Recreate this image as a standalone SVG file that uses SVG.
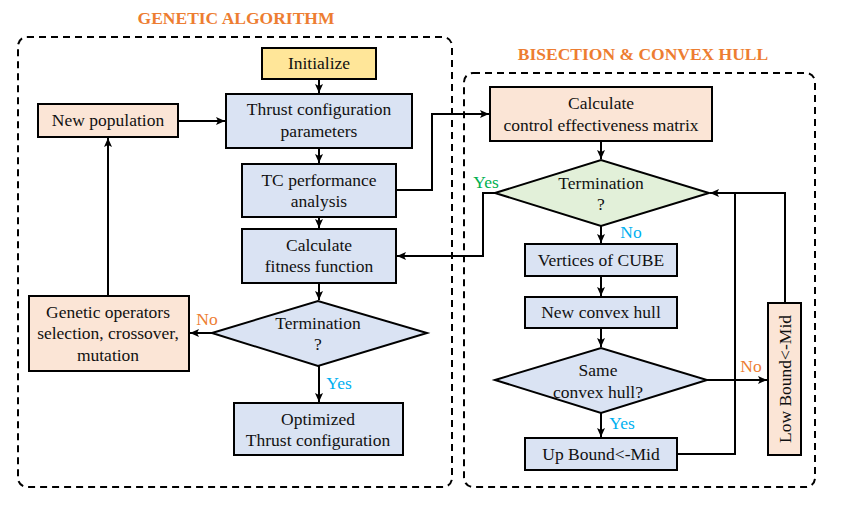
<svg xmlns="http://www.w3.org/2000/svg" width="850" height="506" viewBox="0 0 850 506" font-family="Liberation Serif, Tinos, Times New Roman, serif">
<style>
.box{stroke:#000;stroke-width:2}
.blue{fill:#DAE3F3}.peach{fill:#FBE5D6}.yel{fill:#FFE699}.grn{fill:#E2F0D9}
text{font-size:17.5px;fill:#111;text-anchor:middle}
.title{font-weight:bold;fill:#ED7D31;font-size:17.5px}
.no{fill:#ED7D31}.yes{fill:#00B0F0}.gyes{fill:#00B050}
.dash{fill:none;stroke:#000;stroke-width:2;stroke-dasharray:7,5}
.c{fill:none;stroke:#000;stroke-width:2}
</style>
<defs>
<marker id="ah" markerUnits="userSpaceOnUse" markerWidth="10" markerHeight="10" refX="9" refY="5" orient="auto">
<path d="M0,1 L9,5 L0,9 L2,5 z" fill="#000"/>
</marker>
</defs>
<rect width="850" height="506" fill="#fff"/>
<g id="ga-frame">
<rect class="dash" x="18" y="37" width="434" height="450" rx="9"/>
<text class="title" x="236" y="24">GENETIC ALGORITHM</text>
</g>
<g id="bc-frame">
<rect class="dash" x="464" y="73" width="351" height="414" rx="9"/>
<text class="title" x="643" y="60">BISECTION &amp; CONVEX HULL</text>
</g>
<g id="connectors">
<path class="c" d="M319,79 V93" marker-end="url(#ah)"/>
<path class="c" d="M319,148 V163" marker-end="url(#ah)"/>
<path class="c" d="M319,217 V228" marker-end="url(#ah)"/>
<path class="c" d="M319,283 V300" marker-end="url(#ah)"/>
<path class="c" d="M319,366 V402" marker-end="url(#ah)"/>
<path class="c" d="M212,333 H190" marker-end="url(#ah)"/>
<path class="c" d="M108,296 V138" marker-end="url(#ah)"/>
<path class="c" d="M178,121 H225" marker-end="url(#ah)"/>
<path class="c" d="M396,190 H432 V114 H489" marker-end="url(#ah)"/>
<path class="c" d="M601,141 V159" marker-end="url(#ah)"/>
<path class="c" d="M495,193 H483 V256 H397" marker-end="url(#ah)"/>
<path class="c" d="M601,226 V243" marker-end="url(#ah)"/>
<path class="c" d="M601,276 V296" marker-end="url(#ah)"/>
<path class="c" d="M601,328 V347" marker-end="url(#ah)"/>
<path class="c" d="M601,413 V437" marker-end="url(#ah)"/>
<path class="c" d="M707,380 H767" marker-end="url(#ah)"/>
<path class="c" d="M677,454 H735 V193"/>
<path class="c" d="M785,303 V193 H710" marker-end="url(#ah)"/>
<text class="no" x="207" y="325">No</text>
<text class="yes" x="339" y="389">Yes</text>
<text class="gyes" x="486" y="188">Yes</text>
<text class="yes" x="631" y="238">No</text>
<text class="no" x="751" y="372">No</text>
<text class="yes" x="622" y="429">Yes</text>
</g>
<g id="initialize">
<rect class="box yel" x="262" y="48" width="114" height="31"/>
<text x="319" y="69">Initialize</text>
</g>
<g id="thrust-params">
<rect class="box blue" x="226" y="94" width="186" height="54"/>
<text x="319" y="115">Thrust configuration</text>
<text x="319" y="137">parameters</text>
</g>
<g id="new-population">
<rect class="box peach" x="38" y="104" width="140" height="33"/>
<text x="108" y="126">New population</text>
</g>
<g id="tc-performance">
<rect class="box blue" x="242" y="164" width="154" height="53"/>
<text x="319" y="186">TC performance</text>
<text x="319" y="207">analysis</text>
</g>
<g id="fitness">
<rect class="box blue" x="242" y="229" width="154" height="54"/>
<text x="319" y="251">Calculate</text>
<text x="319" y="272">fitness function</text>
</g>
<g id="ga-termination">
<polygon class="box blue" points="212,333 318,301 427,333 318,366"/>
<text x="318" y="329">Termination</text>
<text x="318" y="350">?</text>
</g>
<g id="genetic-operators">
<rect class="box peach" x="29" y="296" width="160" height="75"/>
<text x="108" y="318">Genetic operators</text>
<text x="108" y="339">selection, crossover,</text>
<text x="108" y="361">mutation</text>
</g>
<g id="optimized">
<rect class="box blue" x="234" y="403" width="169" height="52"/>
<text x="318" y="425">Optimized</text>
<text x="318" y="446">Thrust configuration</text>
</g>
<g id="control-matrix">
<rect class="box peach" x="490" y="87" width="222" height="54"/>
<text x="601" y="109">Calculate</text>
<text x="601" y="131">control effectiveness matrix</text>
</g>
<g id="bc-termination">
<polygon class="box grn" points="495,193 601,160 709,193 601,226"/>
<text x="601" y="189">Termination</text>
<text x="601" y="210">?</text>
</g>
<g id="vertices">
<rect class="box blue" x="525" y="244" width="152" height="32"/>
<text x="601" y="266">Vertices of CUBE</text>
</g>
<g id="new-hull">
<rect class="box blue" x="525" y="297" width="152" height="31"/>
<text x="601" y="318">New convex hull</text>
</g>
<g id="same-hull">
<polygon class="box blue" points="495,380 601,348 707,380 601,413"/>
<text x="598" y="376">Same</text>
<text x="598" y="398">convex hull?</text>
</g>
<g id="up-bound">
<rect class="box blue" x="525" y="438" width="152" height="32"/>
<text x="601" y="460">Up Bound&lt;-Mid</text>
</g>
<g id="low-bound">
<rect class="box peach" x="768" y="303" width="33" height="152"/>
<text transform="translate(791,379) rotate(-90)" x="0" y="0">Low Bound&lt;-Mid</text>
</g>
</svg>
